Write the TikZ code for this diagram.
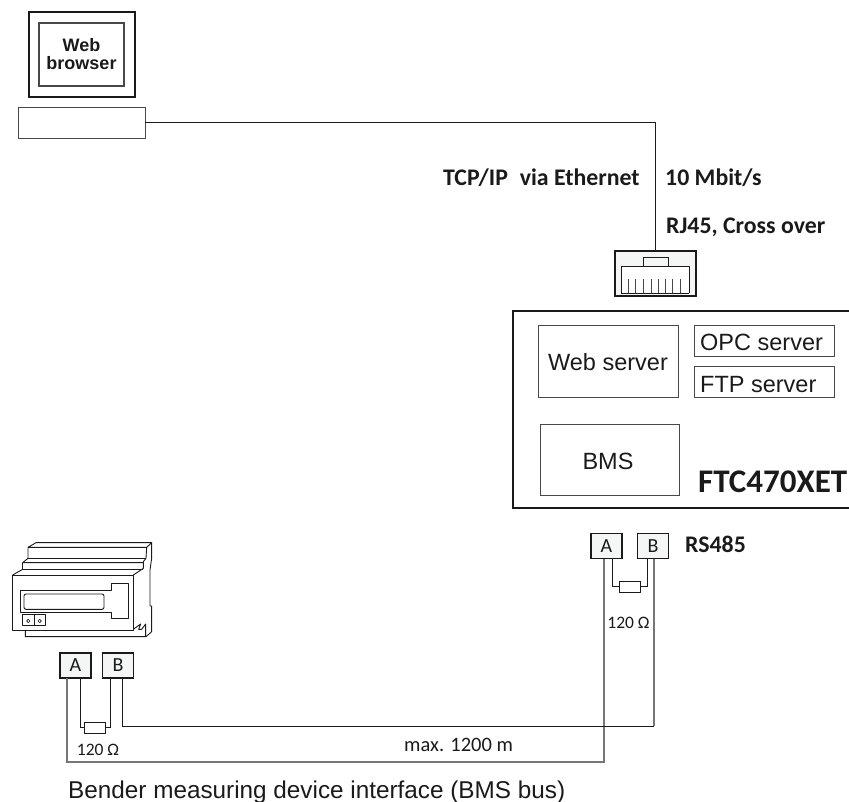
\documentclass[tikz,border=0pt]{standalone}
\usepackage{fontspec}
\setmainfont{Liberation Sans}
\newfontfamily\myr{Carlito}
\definecolor{ink}{HTML}{1A1A1A}
\definecolor{pale}{HTML}{F4F6F5}
\tikzset{
  px/.style={x=1pt,y=-1pt},
  wire/.style={draw=ink,line width=.9pt},
  greywire/.style={draw=ink!60,line width=1.2pt},
  box/.style={draw=ink,line width=.9pt,inner sep=0pt},
  term/.style={draw=ink,line width=1.5pt,fill=pale,minimum width=31pt,minimum height=25pt,inner sep=0pt,font=\myr\fontsize{20}{20}\selectfont,text=ink},
  res/.style={draw=ink,line width=.9pt,fill=white,minimum width=21pt,minimum height=11pt,inner sep=0pt},
  arial/.style={font=\fontsize{23.5}{24}\selectfont,text=ink,inner sep=0pt},
  lab/.style={font=\myr\fontsize{23.8}{24}\selectfont\bfseries,text=ink,anchor=base west,inner sep=0pt},
  ohm/.style={font=\myr\fontsize{17.5}{18}\selectfont,text=ink,inner sep=0pt,anchor=base},
  dev/.style={draw=ink,line width=.9pt,line join=round}
}
\begin{document}
\begin{tikzpicture}[px]
\useasboundingbox (0,0) rectangle (849,802);
% computer
\node[box,line width=1.1pt,minimum width=106pt,minimum height=85pt] (screen) at (82,54.5) {};
\node[box,draw=ink!80,line width=1.1pt,minimum width=85pt,minimum height=63pt,align=center,font=\bfseries\fontsize{18}{18}\selectfont,text=ink] (browser) at (81.5,54.5) {Web\\browser};
\node[box,draw=ink!80,minimum width=127pt,minimum height=31pt] (pc) at (81.5,122.5) {};
% connector
\node[box,line width=1.3pt,fill=pale,minimum width=81pt,minimum height=45pt] (rj) at (655.5,273.5) {};
\draw[wire] (pc.east) -- (655.5,122.5) -- (rj.north);
\draw[dev,fill=white] (621,293) -- (621,266) -- (689,266) -- (689,293);
\draw[ink,line width=1.2pt] (621,293.5) -- (689,293.5);
\draw[dev,fill=pale] (643,257) rectangle (668,266);
\foreach \x in {628,635,643,651,658,665,672,680}{\draw[ink!80,line width=1pt] (\x,279) -- (\x,293);}
% labels
\node[lab] (t1) at (443,186) {TCP/IP\hspace{.5em}via Ethernet};
\node[lab] (t2) at (665,186) {10 Mbit/s};
\node[lab] (t3) at (666,234) {RJ45, Cross over};
\node[lab] (t4) at (685,552) {RS485};
% FTC
\draw[ink,line width=2pt] (849,311) -- (512.5,311) -- (512.5,507.5) -- (849,507.5);
\node[box,draw=ink!80,minimum width=140pt,minimum height=72pt] (web) at (608,361) {};
\node[arial] at (608,362) {Web server};
\node[box,draw=ink!80,minimum width=140pt,minimum height=31pt] (opc) at (764,340.5) {};
\node[arial,anchor=base west] at (700,351) {OPC server};
\node[box,draw=ink!80,minimum width=140pt,minimum height=31pt] (ftp) at (764,381.5) {};
\node[arial,anchor=base west] at (700,392) {FTP server};
\node[box,draw=ink!80,minimum width=139pt,minimum height=71pt] (bms) at (609.5,459.5) {};
\node[arial] at (608,461) {BMS};
\node[anchor=base west,inner sep=0pt,font=\myr\fontsize{33}{33}\selectfont\bfseries,text=ink] (ftc) at (698,492) {FTC470XET};
% device
\begin{scope}[shift={(0,520)},x=1/3 pt,y=-1/3 pt]
\draw[dev] (84,115) -- (84,82) -- (108,68) -- (455,68) -- (440,82) -- (84,82);
\draw[dev] (84,115) -- (438,115);
\draw[dev] (440,82) -- (438,115) -- (430,125);
\draw[dev] (455,68) -- (455,115) -- (450,150) -- (450,258) -- (455,258) -- (455,335) -- (438,350) -- (76,350) -- (76,332);
\draw[dev] (84,115) -- (68,128) -- (430,128);
\draw[dev] (68,128) -- (68,148) -- (430,148);
\draw[dev] (430,125) -- (430,145) -- (400,165);
\draw[dev] (68,148) -- (38,165);
\draw[dev] (38,165) rectangle (400,332);
\draw[dev] (60,212) -- (335,212) -- (335,190) -- (386,190) -- (386,296) -- (335,296) -- (335,278) -- (60,278) -- cycle;
\draw[dev,rounded corners=2pt] (72,222) rectangle (312,268);
\draw[dev] (68,282) rectangle (136,316);
\draw[dev] (102,282) -- (102,316);
\draw[dev,line width=.7pt] (85,303) circle (5);
\draw[dev,line width=.7pt] (119,303) circle (5);
\draw[dev] (400,328) -- (422,312) -- (416,328) -- (425,328) -- (437,312) -- (437,350);
\end{scope}
% left terminals
\node[term] (la) at (75.5,665.5) {A};
\node[term] (lb) at (118,665.5) {B};
\node[res] (lr) at (94.5,727.5) {};
\draw[wire] (80,678) -- (80,727.5) -- (lr.west);
\draw[wire] (lr.east) -- (110,727.5) -- (110,678);
\node[ohm] (lo) at (98,755) {120 Ω};
% right terminals
\node[term] (ra) at (606.5,546) {A};
\node[term] (rb) at (653,546) {B};
\node[res] (rr) at (629.5,586.5) {};
\draw[wire] (612,559) -- (612,586.5) -- (rr.west);
\draw[wire] (rr.east) -- (647,586.5) -- (647,559);
\node[ohm] (ro) at (628.5,628) {120 Ω};
% long wires
\draw[greywire] (67,678) -- (67,762) -- (604,762) -- (604,559);
\draw[wire] (122,678) -- (122,726) -- (654,726);
\draw[greywire] (654,726.4) -- (654,559);
\node[inner sep=0pt,anchor=base west,font=\myr\fontsize{20.5}{22}\selectfont,text=ink] (mx) at (404,751) {max. 1200 m};
\node[anchor=base west,inner sep=0pt,font=\fontsize{24.3}{25}\selectfont,text=ink] (cap) at (68,798) {Bender measuring device interface (BMS bus)};
\end{tikzpicture}
\end{document}
